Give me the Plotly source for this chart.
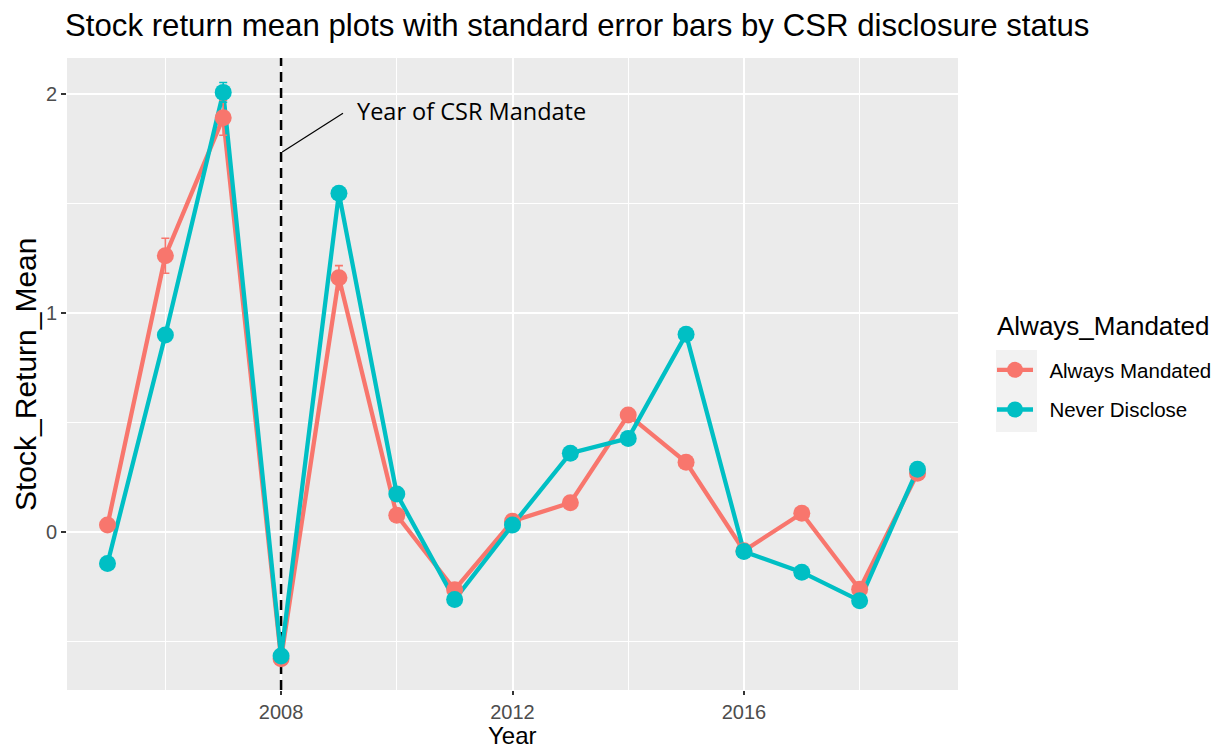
import plotly.graph_objects as go

# Yearly mean stock returns and standard errors for each disclosure group
years = [2005, 2006, 2007, 2008, 2009, 2010, 2011, 2012, 2013, 2014, 2015, 2016, 2017, 2018, 2019]

mandated_mean = [0.03, 1.26, 1.89, -0.58, 1.16, 0.075, -0.265, 0.048, 0.132, 0.533, 0.317, -0.087, 0.084, -0.263, 0.267]
mandated_se = [0.02, 0.08, 0.08, 0.02, 0.055, 0.02, 0.02, 0.02, 0.02, 0.02, 0.02, 0.02, 0.02, 0.02, 0.02]

never_mean = [-0.145, 0.898, 2.006, -0.568, 1.545, 0.172, -0.31, 0.03, 0.358, 0.426, 0.901, -0.091, -0.185, -0.315, 0.285]
never_se = [0.01, 0.015, 0.045, 0.02, 0.02, 0.015, 0.015, 0.015, 0.015, 0.015, 0.015, 0.015, 0.015, 0.015, 0.015]

group_names = ["Always Mandated", "Never Disclose"]
group_colors = ["#F8766D", "#00BFC4"]
legend_title = "Always_Mandated"
x_title = "Year"
y_title = "Stock_Return_Mean"

mandate_year = 2008
mandate_label = "Year of CSR Mandate"
# pointer segment from the dashed line to the label
pointer_x = [2008.02, 2009.07]
pointer_y = [1.734, 1.911]
label_pos = (2009.28, 1.92)

x_range = [2004.3, 2019.7]
y_range = [-0.723, 2.163]

# panel geometry in pixels
W, H = 1215, 748
L, R, T, B = 67, 257, 58, 58
PW, PH = W - L - R, H - T - B


def px_x(p):
    return (p - L) / PW


def px_y(p):
    return (H - B - p) / PH


series = [
    (group_names[0], mandated_mean, mandated_se, group_colors[0]),
    (group_names[1], never_mean, never_se, group_colors[1]),
]

fig = go.Figure()

# dashed reference line at the mandate year, spanning the panel
fig.add_trace(go.Scatter(
    x=[mandate_year, mandate_year], y=y_range, mode="lines", showlegend=False,
    line=dict(color="black", width=2.5, dash="10px,6px"), hoverinfo="skip",
    cliponaxis=True,
))

# connecting lines
for name, vals, se, color in series:
    fig.add_trace(go.Scatter(
        x=years, y=vals, mode="lines", showlegend=False,
        line=dict(color=color, width=4.3), hoverinfo="skip",
    ))

# points with standard error bars on top
for name, vals, se, color in series:
    fig.add_trace(go.Scatter(
        x=years, y=vals, mode="markers", name=name, showlegend=False,
        marker=dict(color=color, size=17),
        error_y=dict(type="data", array=se, visible=True, color=color,
                     thickness=1.6, width=4),
    ))

# legend entries
pad = "\u00a0\u00a0"
for name, vals, se, color in series:
    fig.add_trace(go.Scatter(
        x=[None], y=[None], mode="lines+markers", name=pad + name,
        legendgroup=name,
        line=dict(color=color, width=4.3), marker=dict(color=color, size=17),
    ))

axis_font = dict(family="Liberation Sans, Arial, sans-serif", size=20, color="#4D4D4D")

fig.update_layout(
    width=W, height=H,
    margin=dict(l=L, r=R, t=T, b=B, autoexpand=False),
    paper_bgcolor="white",
    plot_bgcolor="#EBEBEB",
    font=dict(family="Liberation Sans, Arial, sans-serif", color="black"),
    title=dict(
        text="Stock return mean plots with standard error bars by CSR disclosure status",
        x=65 / W, xanchor="left", xref="container",
        y=1 - 25 / H, yanchor="middle", yref="container",
        font=dict(size=31.2, color="black"),
    ),
    xaxis=dict(
        range=x_range, tick0=2008, dtick=4, automargin=False,
        showgrid=True, gridcolor="white", gridwidth=2.2,
        minor=dict(dtick=2, tick0=2006, showgrid=True, gridcolor="white", gridwidth=1.1),
        ticks="outside", ticklen=4, tickwidth=1.5, tickcolor="#333333",
        tickfont=axis_font, zeroline=False, showline=False,
    ),
    yaxis=dict(
        range=y_range, tick0=0, dtick=1, automargin=False,
        showgrid=True, gridcolor="white", gridwidth=2.2,
        minor=dict(dtick=0.5, tick0=0, showgrid=True, gridcolor="white", gridwidth=1.1),
        ticks="outside", ticklen=5, tickwidth=1.5, tickcolor="#333333",
        tickfont=axis_font, zeroline=False, showline=False,
    ),
    legend=dict(
        x=px_x(992), xanchor="left",
        y=px_y(350), yanchor="top",
        font=dict(size=20.5, color="black"),
        bgcolor="rgba(0,0,0,0)", borderwidth=0,
        tracegroupgap=10, itemwidth=36,
    ),
    shapes=[
        # legend key background
        dict(type="rect", xref="paper", yref="paper",
             x0=px_x(996), x1=px_x(1037), y0=px_y(432), y1=px_y(350),
             fillcolor="#F2F2F2", line=dict(width=0), layer="below"),
        dict(type="line", xref="x", yref="y",
             x0=pointer_x[0], x1=pointer_x[1], y0=pointer_y[0], y1=pointer_y[1],
             line=dict(color="black", width=1.2)),
    ],
    annotations=[
        dict(x=label_pos[0], y=label_pos[1], xref="x", yref="y",
             text=mandate_label, showarrow=False, xanchor="left", yanchor="middle",
             font=dict(family="Open Sans, sans-serif", size=23.5, color="black")),
        dict(x=px_x(995), y=px_y(326), xref="paper", yref="paper",
             text=legend_title, showarrow=False, xanchor="left", yanchor="middle",
             font=dict(size=26, color="black")),
        dict(x=0.5, y=px_y(735), xref="paper", yref="paper",
             text=x_title, showarrow=False, xanchor="center", yanchor="middle",
             font=dict(size=24, color="black")),
        dict(x=px_x(25), y=0.5, xref="paper", yref="paper",
             text=y_title, showarrow=False, xanchor="center", yanchor="middle",
             textangle=-90, font=dict(size=30, color="black")),
    ],
)

fig.write_html("out.html")
